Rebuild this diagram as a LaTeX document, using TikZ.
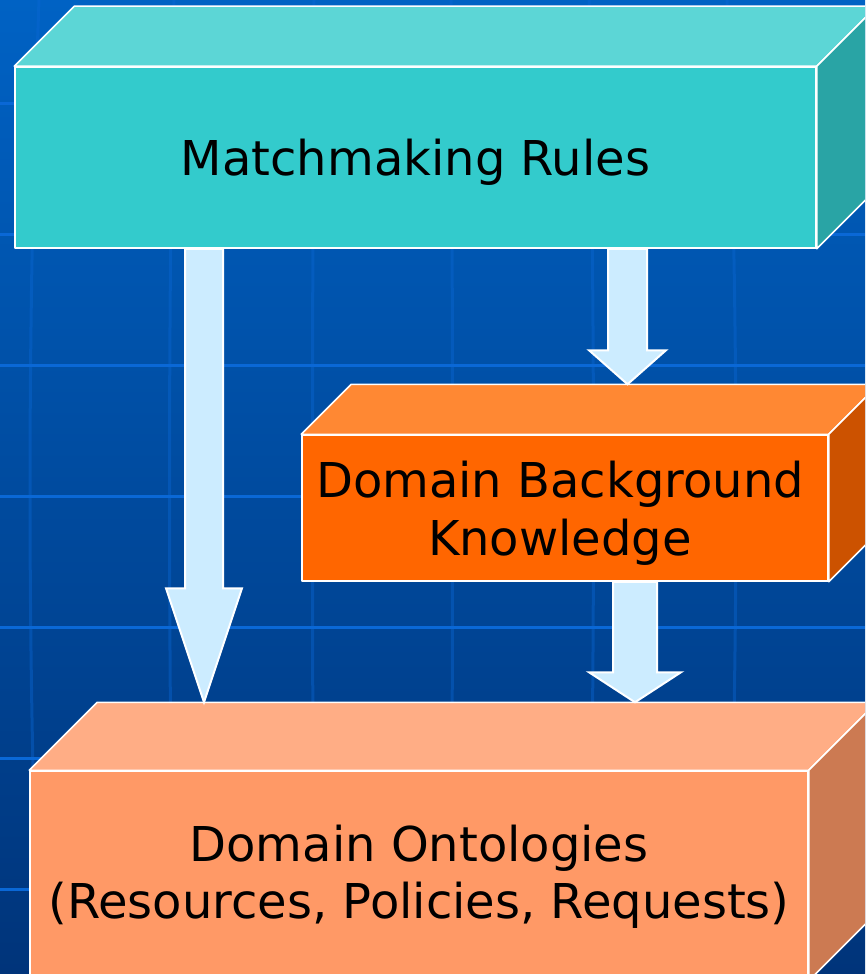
\documentclass[tikz,border=0pt]{standalone}
\usepackage{fontspec}
\setmainfont{DejaVu Sans}
\usetikzlibrary{calc}

\definecolor{bgtop}{HTML}{0062C4}
\definecolor{bgbot}{HTML}{00347A}
\definecolor{gridblue}{HTML}{0A68D6}
\definecolor{tealtop}{HTML}{5CD6D6}
\definecolor{tealfront}{HTML}{33CBCC}
\definecolor{tealside}{HTML}{29A4A5}
\definecolor{orangetop}{HTML}{FF8833}
\definecolor{orangefront}{HTML}{FF6600}
\definecolor{orangeside}{HTML}{CC5200}
\definecolor{salmontop}{HTML}{FFAD85}
\definecolor{salmonfront}{HTML}{FF9966}
\definecolor{salmonside}{HTML}{CC7A52}
\definecolor{arrowblue}{HTML}{CCECFF}

\tikzset{
  face/.style={draw=white, line width=1.5pt, line join=round},
  frontface/.style={face, inner sep=0pt, font=\fontsize{48}{58}\selectfont,
    text=black, align=center},
  blockarrow/.style={fill=arrowblue, draw=white, line width=2pt, line join=miter}
}

\begin{document}
\begin{tikzpicture}[x=1pt,y=-1pt]
\useasboundingbox (0,0) rectangle (865,974);
\clip (0,0) rectangle (865,974);
% background and globe grid
\shade[top color=bgtop, bottom color=bgbot] (0,0) rectangle (865,974);
\foreach \y in {103,234,365,496,627,758,889}
  \draw[gridblue, line width=3pt] (0,\y) -- (865,\y);
\foreach \x/\b in {33/6,171/3,313/1,452/-1,592/-3,733/-6}
  \draw[gridblue, opacity=0.4, line width=3pt] (\x+\b,0) .. controls (\x-\b,330) and (\x-\b,650) .. (\x+\b,974);

% Matchmaking Rules box
\node[frontface, fill=tealfront, minimum width=801pt, minimum height=181pt] (rules) at (415.5,157.5) {\raisebox{-5pt}[\height][\depth]{Matchmaking Rules}};
\draw[face, fill=tealtop] (rules.north west) -- ++(60,-60) -- ($(rules.north east)+(60,-60)$) -- (rules.north east) -- cycle;
\draw[face, fill=tealside] (rules.north east) -- ++(60,-60) -- ($(rules.south east)+(60,-60)$) -- (rules.south east) -- cycle;

% Domain Background Knowledge box
\node[frontface, fill=orangefront, minimum width=526pt, minimum height=146pt] (knowledge) at (565,508) {\raisebox{-7pt}[\height][\depth]{\begin{tabular}{@{}c@{}}Domain Background\\[-0.5pt]Knowledge\end{tabular}}\hspace*{10pt}};
\draw[face, fill=orangetop] (knowledge.north west) -- ++(50,-50) -- ($(knowledge.north east)+(50,-50)$) -- (knowledge.north east) -- cycle;
\draw[face, fill=orangeside] (knowledge.north east) -- ++(50,-50) -- ($(knowledge.south east)+(50,-50)$) -- (knowledge.south east) -- cycle;
\coordinate (knowtop) at ($(knowledge.north)+(0,-50)$);

% Domain Ontologies box
\node[frontface, fill=salmonfront, minimum width=778pt, minimum height=209pt] (onto) at (419,875.5) {\raisebox{-3pt}[\height][\depth]{\begin{tabular}{@{}c@{}}Domain Ontologies\\[-0.5pt](Resources, Policies, Requests)\end{tabular}}};
\draw[face, fill=salmontop] (onto.north west) -- ++(68,-68) -- ($(onto.north east)+(68,-68)$) -- (onto.north east) -- cycle;
\draw[face, fill=salmonside] (onto.north east) -- ++(68,-68) -- ($(onto.south east)+(68,-68)$) -- (onto.south east) -- cycle;
\coordinate (ontotop) at ($(onto.north)+(0,-68)$);

% arrows
\coordinate (s1) at (204,0 |- rules.south);
\coordinate (t1) at (204,0 |- ontotop);
\draw[blockarrow] ($(s1)+(-19,0)$) -- ($(t1)+(-19,-114)$) -- ($(t1)+(-38,-114)$) -- (t1)
  -- ($(t1)+(38,-114)$) -- ($(t1)+(19,-114)$) -- ($(s1)+(19,0)$) -- cycle;
\coordinate (s2) at (627.5,0 |- rules.south);
\coordinate (t2) at (627.5,0 |- knowtop);
\draw[blockarrow] ($(s2)+(-19.5,0)$) -- ($(t2)+(-19.5,-34)$) -- ($(t2)+(-38.5,-34)$) -- (t2)
  -- ($(t2)+(38.5,-34)$) -- ($(t2)+(19.5,-34)$) -- ($(s2)+(19.5,0)$) -- cycle;
\coordinate (s3) at (635,0 |- knowledge.south);
\coordinate (t3) at (635,0 |- ontotop);
\draw[blockarrow] ($(s3)+(-22,0)$) -- ($(t3)+(-22,-30)$) -- ($(t3)+(-46,-30)$) -- (t3)
  -- ($(t3)+(46,-30)$) -- ($(t3)+(22,-30)$) -- ($(s3)+(22,0)$) -- cycle;
\end{tikzpicture}
\end{document}
